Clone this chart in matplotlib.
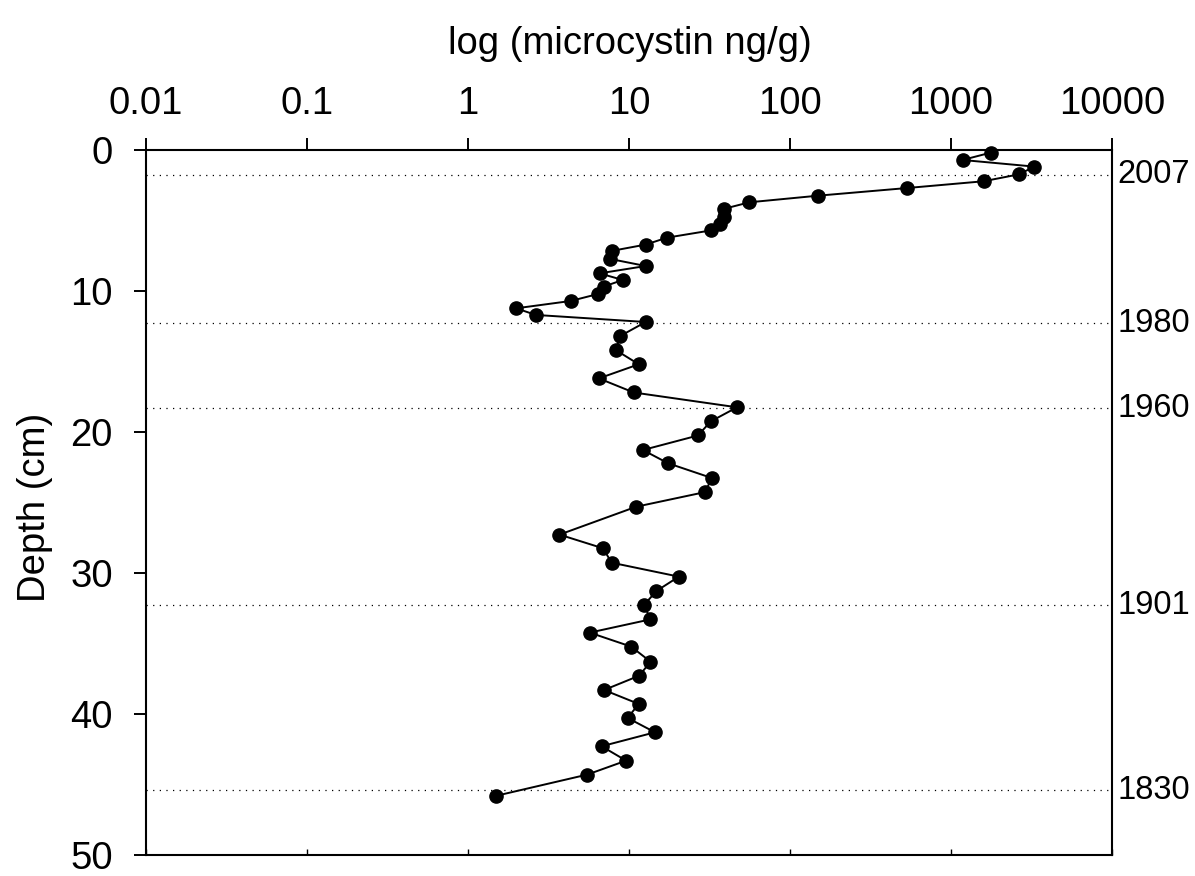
import matplotlib
matplotlib.use("Agg")
from matplotlib import pyplot
import matplotlib.ticker as ticker
import matplotlib.transforms as transforms

pyplot.rcParams['font.family'] = ['Liberation Sans', 'DejaVu Sans']

# depth of each slice [cm] and microcystin content [ng/g]
depth = [0.19, 0.71, 1.18, 1.73, 2.22, 2.70, 3.24, 3.71, 4.18, 4.73, 5.25, 5.70,
         6.22, 6.71, 7.16, 7.73, 8.23, 8.75, 9.22, 9.69, 10.21, 10.71, 11.23, 11.70,
         12.2, 13.2, 14.2, 15.2, 16.2, 17.2, 18.25, 19.25, 20.25, 21.28, 22.22, 23.26,
         24.26, 25.3, 27.28, 28.25, 29.27, 30.26, 31.28, 32.27, 33.29, 34.23, 35.22,
         36.29, 37.28, 38.3, 39.29, 40.28, 41.3, 42.29, 43.31, 44.3, 45.8]
microcystin = [1765, 1180, 3300, 2640, 1593, 532, 150, 56, 38.7, 38.9, 37, 32.5,
               17.2, 12.7, 7.8, 7.65, 12.7, 6.56, 9.15, 6.95, 6.44, 4.34, 1.99, 2.64,
               12.7, 8.8, 8.3, 11.5, 6.5, 10.7, 46.9, 32.2, 26.8, 12.2, 17.5, 32.6,
               29.8, 11.1, 3.7, 6.9, 7.8, 20.4, 14.8, 12.4, 13.6, 5.7, 10.3,
               13.6, 11.6, 7.0, 11.5, 9.8, 14.5, 6.76, 9.6, 5.5, 1.5]

# dated horizons
year_depth = [1.75, 12.3, 18.3, 32.3, 45.4]
year_label = ['2007', '1980', '1960', '1901', '1830']

x_ticks = [0.01, 0.1, 1, 10, 100, 1000, 10000]
x_tick_labels = ['0.01', '0.1', '1', '10', '100', '1000', '10000']
y_ticks = [0, 10, 20, 30, 40, 50]

fig = pyplot.figure(figsize=(11.95, 8.76), dpi=100)
ax = fig.add_axes([0.1222, 0.024, 0.8083, 0.8048])

ax.set_xscale('log')
ax.set_xlim(0.01, 10000)
ax.set_ylim(50, 0)

# horizontal dotted lines for dates
trans = transforms.blended_transform_factory(ax.transAxes, ax.transData)
for d, lab in zip(year_depth, year_label):
    ax.axhline(d, color='black', linewidth=0.9, linestyle=(0, (1, 4.3)), zorder=1)
    ax.text(1.006, d, lab, transform=trans, ha='left', va='center', fontsize=23.5)

ax.plot(microcystin, depth, color='black', linewidth=1.4, marker='o',
        markersize=9.5, zorder=3, clip_on=False)

# ticks on top (outward), labels on top
ax.xaxis.set_major_locator(ticker.FixedLocator(x_ticks))
ax.xaxis.set_major_formatter(ticker.FixedFormatter(x_tick_labels))
ax.xaxis.set_minor_locator(ticker.NullLocator())
ax.tick_params(axis='x', which='major', top=True, bottom=False, labeltop=True,
               labelbottom=False, direction='out', length=9, width=1.4,
               labelsize=27.5, pad=11)

ax.yaxis.set_major_locator(ticker.FixedLocator(y_ticks))
ax.tick_params(axis='y', which='major', left=True, right=False, direction='out',
               length=9, width=1.4, labelsize=27.5, pad=15)

# small inward ticks along the bottom
sec = ax.secondary_xaxis('bottom')
sec.set_xticks(x_ticks)
sec.xaxis.set_minor_locator(ticker.NullLocator())
sec.tick_params(axis='x', which='major', direction='in', length=4, width=1.0,
                labelbottom=False)
sec.spines['bottom'].set_visible(False)

for s in ax.spines.values():
    s.set_linewidth(1.5)

fig.text(0.527, 0.950, 'log (microcystin ng/g)', ha='center', va='center', fontsize=27.5)
fig.text(0.029, 0.421, 'Depth (cm)', ha='center', va='center', rotation=90, fontsize=27.5)

fig.savefig('out.png', dpi=100)
